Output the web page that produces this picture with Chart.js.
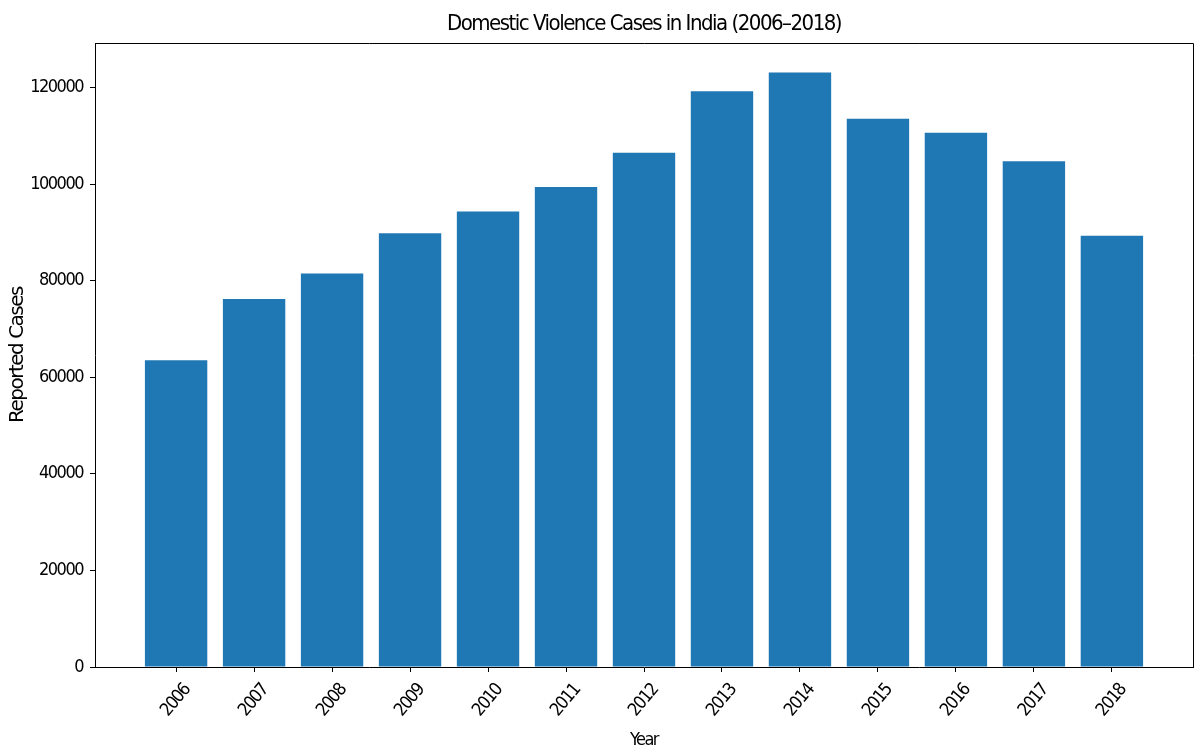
<!DOCTYPE html>
<html>
<head>
<meta charset="utf-8">
<script src="https://cdn.jsdelivr.net/npm/chart.js@4"></script>
<style>
  body { margin: 0; background: #fff; }
</style>
</head>
<body>
<canvas id="dvChart" width="1194" height="745"></canvas>
<script>
var years = ['2006', '2007', '2008', '2009', '2010', '2011', '2012', '2013', '2014', '2015', '2016', '2017', '2018'];
var cases = [63500, 76200, 81500, 89800, 94300, 99400, 106500, 119200, 123100, 113500, 110600, 104700, 89300];
var yTicks = [0, 20000, 40000, 60000, 80000, 100000, 120000];

// the source image is squeezed sideways, so use a condensed face and tight spacing
var narrow = "'DejaVu Sans Condensed', 'DejaVu Sans', sans-serif";
var wide = "'DejaVu Sans', sans-serif";

var tighten = {
    id: 'tighten',
    beforeUpdate: function (chart) { chart.ctx.letterSpacing = '-1.5px'; },
    beforeDraw: function (chart) { chart.ctx.letterSpacing = '-1.5px'; }
};

// top and right spines, like matplotlib's box
var frame = {
    id: 'frame',
    afterDraw: function (chart) {
        var a = chart.chartArea, c = chart.ctx;
        c.save();
        c.strokeStyle = '#000';
        c.lineWidth = 1;
        c.beginPath();
        c.moveTo(a.left, a.top + 0.5);
        c.lineTo(a.right + 0.5, a.top + 0.5);
        c.lineTo(a.right + 0.5, a.bottom);
        c.stroke();
        c.restore();
    }
};

var ctx = document.getElementById('dvChart').getContext('2d');
var dvChart = new Chart(ctx, {
    type: 'bar',
    data: {
        datasets: [{
            xAxisID: 'x',
            yAxisID: 'y',
            data: cases.map(function (v, i) { return { x: i, y: v }; }),
            backgroundColor: '#1f77b4',
            borderWidth: 0,
            categoryPercentage: 0.8,
            barPercentage: 1.0
        }]
    },
    options: {
        responsive: false,
        animation: false,
        layout: { padding: { top: 0, right: 1, left: 0, bottom: 0 } },
        plugins: {
            legend: { display: false },
            tooltip: { enabled: false }
        },
        scales: {
            x: {
                type: 'linear',
                min: -1.04,
                max: 13.04,
                offset: false,
                afterBuildTicks: function (s) {
                    s.ticks = years.map(function (y, i) { return { value: i }; });
                },
                afterFit: function (s) { s.height = 78; },
                ticks: {
                    color: '#000',
                    font: { family: narrow, size: 18 },
                    minRotation: 50,
                    maxRotation: 50,
                    labelOffset: 11,
                    padding: 8,
                    callback: function (v) { return years[v]; }
                },
                grid: { display: true, offset: false, drawOnChartArea: false, tickLength: 5, color: '#000' },
                border: { display: true, color: '#000', width: 1 },
                title: {
                    display: true,
                    text: 'Year',
                    color: '#000',
                    font: { family: narrow, size: 18 },
                    padding: { top: 0, bottom: -6 }
                }
            },
            // empty top axis, only used to centre the title over the plot like matplotlib
            top: {
                type: 'linear',
                position: 'top',
                afterFit: function (s) { s.height = 43; },
                ticks: { display: false },
                grid: { display: false },
                border: { display: false },
                title: {
                    display: true,
                    text: 'Domestic Violence Cases in India (2006–2018)',
                    color: '#000',
                    font: { family: narrow, size: 22, weight: 'normal' },
                    padding: { top: 11, bottom: 0 }
                }
            },
            y: {
                min: 0,
                max: 129200,
                afterBuildTicks: function (s) {
                    s.ticks = yTicks.map(function (v) { return { value: v }; });
                },
                afterFit: function (s) { s.width = 95; },
                ticks: {
                    color: '#000',
                    font: { family: narrow, size: 18 },
                    padding: 7,
                    callback: function (v) { return String(v); }
                },
                grid: { display: true, drawOnChartArea: false, tickLength: 5, color: '#000' },
                border: { display: true, color: '#000', width: 1 },
                title: {
                    display: true,
                    text: 'Reported Cases',
                    color: '#000',
                    font: { family: wide, size: 20 },
                    padding: { top: 6, bottom: 0 }
                }
            }
        }
    },
    plugins: [tighten, frame]
});
</script>
</body>
</html>
